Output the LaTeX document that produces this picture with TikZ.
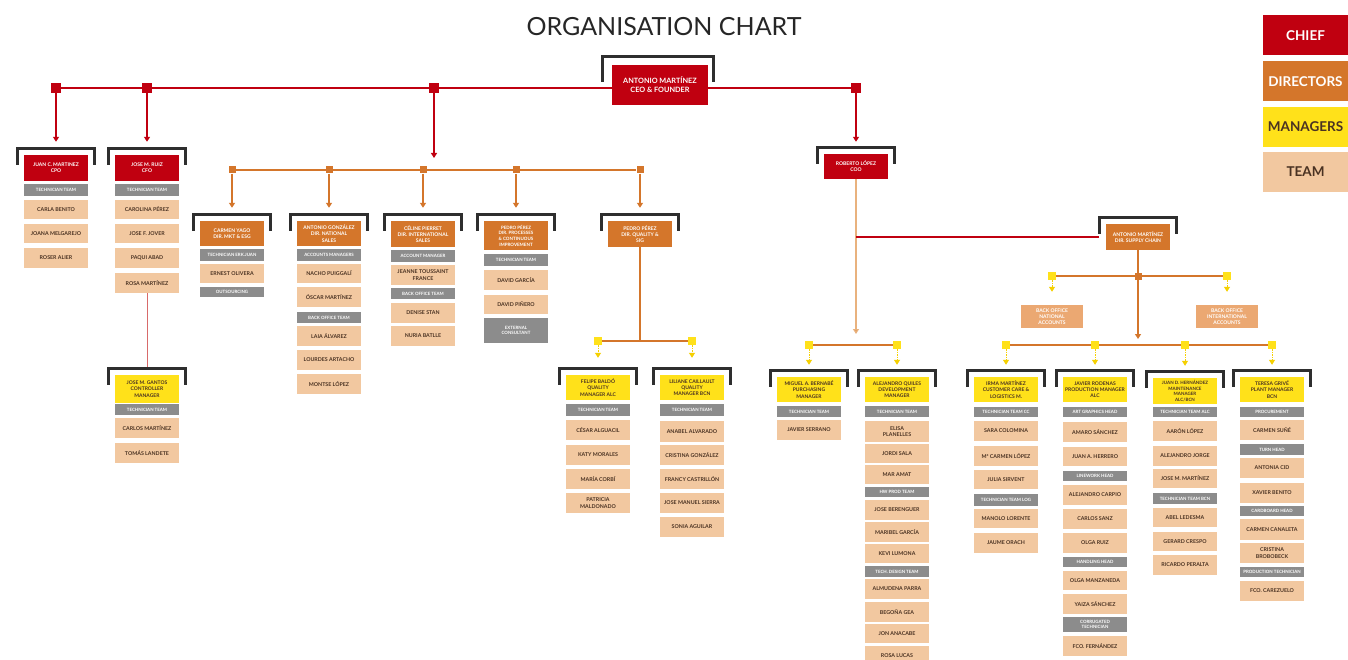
\documentclass[tikz,border=0pt]{standalone}
\usepackage{fontspec}
\setmainfont{Lato}
\usetikzlibrary{arrows.meta}
\definecolor{chiefc}{HTML}{C00010}
\definecolor{dirc}{HTML}{D4762B}
\definecolor{mgrc}{HTML}{FFE11A}
\definecolor{teamc}{HTML}{F2C8A0}
\definecolor{grayc}{HTML}{8C8C8C}
\definecolor{boc}{HTML}{EBA872}
\definecolor{darkt}{HTML}{4A3222}
\definecolor{brkc}{HTML}{2E2E2E}
\definecolor{lorange}{HTML}{E9B27E}
\definecolor{linkc}{HTML}{D86A6A}
\definecolor{yarrc}{HTML}{F5D000}
\pgfdeclarelayer{bg}
\pgfsetlayers{bg,main}
\tikzset{
 base/.style={rectangle, inner sep=0.5pt, minimum width=64pt, align=center, font=\fontsize{5}{6.2}\selectfont\bfseries},
 chief/.style={base, fill=chiefc, text=white},
 dir/.style={base, fill=dirc, text=white},
 mgr/.style={base, fill=mgrc, text=darkt},
 team/.style={base, fill=teamc, text=darkt, font=\fontsize{5.3}{6.4}\selectfont\bfseries},
 grp/.style={base, fill=grayc, text=white, font=\fontsize{4.4}{5.2}\selectfont\bfseries},
 bo/.style={base, minimum width=62pt, fill=boc, text=white},
 four/.style={font=\fontsize{4.5}{5.7}\selectfont\bfseries},
 brk/.style={draw=brkc, line width=3pt, line join=miter},
 redl/.style={draw=chiefc, line width=2.5pt},
 orl/.style={draw=dirc, line width=2.2pt},
 redarr/.style={draw=chiefc, line width=1.3pt, -{Triangle[width=6pt,length=5pt]}},
 orarr/.style={draw=dirc, line width=1.3pt, -{Triangle[width=6pt,length=5pt]}},
 orthin/.style={draw=dirc, line width=1.4pt},
 yarr/.style={draw=yarrc, line width=1pt, dash pattern=on 1.5pt off 1pt, -{Triangle[width=6pt,length=5pt,fill=yarrc]}},
 rsq/.style={rectangle, inner sep=0, minimum size=10pt, fill=chiefc},
 osq/.style={rectangle, inner sep=0, minimum size=7pt, fill=dirc},
 ysq/.style={rectangle, inner sep=0, minimum size=8pt, fill=mgrc},
 legend/.style={rectangle, minimum width=85pt, minimum height=40pt, inner sep=0, font=\fontsize{13.5}{15}\selectfont\bfseries},
}
\newcommand\bx[6]{\node[#2,minimum height={(#5-#4)*1pt}] (#1) at (#3,{(#4+#5)/2}) {#6};}
\newcommand\brk[1]{\draw[brk] ([shift={(-6pt,-10pt)}]#1.north west) -- ([shift={(-6pt,6pt)}]#1.north west) -- ([shift={(6pt,6pt)}]#1.north east) -- ([shift={(6pt,-10pt)}]#1.north east);}
\begin{document}
\begin{tikzpicture}[x=1pt,y=-1pt]
\useasboundingbox (0,0) rectangle (1348,660);
\begin{pgfonlayer}{bg}
\fill[white] (0,0) rectangle (1348,660);
\end{pgfonlayer}
\clip (0,0) rectangle (1348,660);

% title
\node[font=\fontsize{25}{30}\selectfont, text=black!85] (title) at (664,27) {ORGANISATION CHART};

% legend
\node[legend, fill=chiefc, text=white] (lg1) at (1305.5,35.5) {CHIEF};
\node[legend, fill=dirc, text=white] (lg2) at (1305.5,81.5) {DIRECTORS};
\node[legend, fill=mgrc, text=darkt] (lg3) at (1305.5,127) {MANAGERS};
\node[legend, fill=teamc, text=darkt] (lg4) at (1305.5,172) {TEAM};

% CEO
\node[chief, minimum width=96pt, minimum height=40pt, font=\fontsize{7.3}{9}\selectfont\bfseries] (ceo) at (660,85) {ANTONIO MARTÍNEZ\\CEO \& FOUNDER};
\draw[brk] ([shift={(-9pt,-17pt)}]ceo.north west) -- ([shift={(-9pt,8pt)}]ceo.north west) -- ([shift={(5pt,8pt)}]ceo.north east) -- ([shift={(5pt,-17pt)}]ceo.north east);

% top squares
\node[rsq] (rsq1) at (56,88) {};
\node[rsq] (rsq2) at (147,88) {};
\node[rsq] (rsq3) at (434,88) {};
\node[rsq] (rsq4) at (856,88) {};
\coordinate (dtip) at (434,158);

% director squares
\node[osq] (osq1) at (232,170) {};
\node[osq] (osq2) at (329,170) {};
\node[osq] (osq3) at (423,170) {};
\node[osq] (osq4) at (516,170) {};
\node[osq] (osq5) at (640,170) {};

% ---------- chiefs ----------
\bx{jc}{chief}{56}{155}{181}{JUAN C. MARTINEZ\\CPO}
\bx{jc1}{grp}{56}{184}{196}{TECHNICIAN TEAM}
\bx{jc2}{team}{56}{200}{219}{CARLA BENITO}
\bx{jc3}{team}{56}{224}{243}{JOANA MELGAREJO}
\bx{jc4}{team}{56}{248}{268}{ROSER ALIER}

\bx{jr}{chief}{147}{155}{181}{JOSE M. RUIZ\\CFO}
\bx{jr1}{grp}{147}{184}{196}{TECHNICIAN TEAM}
\bx{jr2}{team}{147}{200}{219}{CAROLINA PÉREZ}
\bx{jr3}{team}{147}{224}{243}{JOSE F. JOVER}
\bx{jr4}{team}{147}{248}{268}{PAQUI ABAD}
\bx{jr5}{team}{147}{273}{293}{ROSA MARTÍNEZ}

\bx{gan}{mgr}{147}{375}{403}{JOSE M. GANTOS\\CONTROLLER\\MANAGER}
\bx{gan1}{grp}{147}{404}{415}{TECHNICIAN TEAM}
\bx{gan2}{team}{147}{418}{438}{CARLOS MARTÍNEZ}
\bx{gan3}{team}{147}{443}{463}{TOMÁS LANDETE}

\bx{rl}{chief}{856}{154}{179}{ROBERTO LÓPEZ\\COO}

% ---------- directors ----------
\bx{cy}{dir}{232}{221}{246}{CARMEN YAGO\\DIR. MKT \& ESG}
\bx{cy1}{grp}{232}{249}{261}{TECHNICIAN ERK.JUAN}
\bx{cy2}{team}{232}{264}{283}{ERNEST OLIVERA}
\bx{cy3}{grp}{232}{287}{297}{OUTSOURCING}

\bx{ag}{dir}{329}{221}{246}{ANTONIO GONZÁLEZ\\DIR. NATIONAL\\SALES}
\bx{ag1}{grp}{329}{249}{261}{ACCOUNTS MANAGERS}
\bx{ag2}{team}{329}{264}{283}{NACHO PUIGGALÍ}
\bx{ag3}{team}{329}{287}{307}{ÓSCAR MARTÍNEZ}
\bx{ag4}{grp}{329}{312}{323}{BACK OFFICE TEAM}
\bx{ag5}{team}{329}{326}{346}{LAIA ÁLVAREZ}
\bx{ag6}{team}{329}{350}{370}{LOURDES ARTACHO}
\bx{ag7}{team}{329}{374}{394}{MONTSE LÓPEZ}

\bx{cp}{dir}{423}{221}{247}{CÉLINE PIERRET\\DIR. INTERNATIONAL\\SALES}
\bx{cp1}{grp}{423}{250}{262}{ACCOUNT MANAGER}
\bx{cp2}{team}{423}{265}{285}{JEANNE TOUSSAINT\\FRANCE}
\bx{cp3}{grp}{423}{288}{299}{BACK OFFICE TEAM}
\bx{cp4}{team}{423}{303}{323}{DENISE STAN}
\bx{cp5}{team}{423}{326}{346}{NURIA BATLLE}

\bx{pp}{dir,four}{516}{221}{250}{PEDRO PÉREZ\\DIR. PROCESSES\\\& CONTINUOUS\\IMPROVEMENT}
\bx{pp1}{grp}{516}{254}{266}{TECHNICIAN TEAM}
\bx{pp2}{team}{516}{270}{290}{DAVID GARCÍA}
\bx{pp3}{team}{516}{295}{314}{DAVID PIÑERO}
\bx{pp4}{grp}{516}{318}{343}{EXTERNAL\\CONSULTANT}

\bx{pq}{dir}{640}{221}{247}{PEDRO PÉREZ\\DIR. QUALITY \&\\SIG}

\bx{am}{dir}{1138}{224}{250}{ANTONIO MARTÍNEZ\\DIR. SUPPLY CHAIN}
\bx{bon}{bo}{1052}{305}{328}{BACK OFFICE\\NATIONAL\\ACCOUNTS}
\bx{boi}{bo}{1227}{305}{328}{BACK OFFICE\\INTERNATIONAL\\ACCOUNTS}

% ---------- managers ----------
\bx{fb}{mgr}{598}{375}{400}{FELIPE BALDÓ\\QUALITY\\MANAGER ALC}
\bx{fb1}{grp}{598}{404}{416}{TECHNICIAN TEAM}
\bx{fb2}{team}{598}{420}{440}{CÉSAR ALGUACIL}
\bx{fb3}{team}{598}{445}{465}{KATY MORALES}
\bx{fb4}{team}{598}{469}{489}{MARÍA CORBÍ}
\bx{fb5}{team}{598}{493}{513}{PATRICIA\\MALDONADO}

\bx{lc}{mgr}{692}{375}{400}{LILIANE CAILLAULT\\QUALITY\\MANAGER BCN}
\bx{lc1}{grp}{692}{404}{416}{TECHNICIAN TEAM}
\bx{lc2}{team}{692}{421}{442}{ANABEL ALVARADO}
\bx{lc3}{team}{692}{445}{465}{CRISTINA GONZÁLEZ}
\bx{lc4}{team}{692}{469}{489}{FRANCY CASTRILLÓN}
\bx{lc5}{team}{692}{493}{513}{JOSE MANUEL SIERRA}
\bx{lc6}{team}{692}{517}{537}{SONIA AGUILAR}

\bx{mb}{mgr}{809}{377}{402}{MIGUEL A. BERNABÉ\\PURCHASING\\MANAGER}
\bx{mb1}{grp}{809}{406}{417}{TECHNICIAN TEAM}
\bx{mb2}{team}{809}{420}{440}{JAVIER SERRANO}

\bx{aq}{mgr}{897}{377}{402}{ALEJANDRO QUILES\\DEVELOPMENT\\MANAGER}
\bx{aq1}{grp}{897}{406}{417}{TECHNICIAN TEAM}
\bx{aq2}{team}{897}{421}{442}{ELISA\\PLANELLES}
\bx{aq3}{team}{897}{444}{463}{JORDI SALA}
\bx{aq4}{team}{897}{465}{484}{MAR AMAT}
\bx{aq5}{grp}{897}{487}{497}{HW PROD TEAM}
\bx{aq6}{team}{897}{500}{520}{JOSE BERENGUER}
\bx{aq7}{team}{897}{522}{542}{MARIBEL GARCÍA}
\bx{aq8}{team}{897}{544}{563}{KEVI LUMONA}
\bx{aq9}{grp}{897}{566}{577}{TECH. DESIGN TEAM}
\bx{aq10}{team}{897}{579}{599}{ALMUDENA PARRA}
\bx{aq11}{team}{897}{602}{622}{BEGOÑA GEA}
\bx{aq12}{team}{897}{624}{643}{JON ANACABE}
\bx{aq13}{team}{897}{646}{666}{ROSA LUCAS}

\bx{im}{mgr}{1006}{377}{402}{IRMA MARTÍNEZ\\CUSTOMER CARE \&\\LOGISTICS M.}
\bx{im1}{grp}{1006}{407}{417}{TECHNICIAN TEAM CC}
\bx{im2}{team}{1006}{421}{441}{SARA COLOMINA}
\bx{im3}{team}{1006}{446}{466}{Mª CARMEN LÓPEZ}
\bx{im4}{team}{1006}{470}{489}{JULIA SIRVENT}
\bx{im5}{grp}{1006}{494}{506}{TECHNICIAN TEAM LOG}
\bx{im6}{team}{1006}{509}{528}{MANOLO LORENTE}
\bx{im7}{team}{1006}{533}{553}{JAUME ORACH}

\bx{jv}{mgr}{1095}{377}{402}{JAVIER RODENAS\\PRODUCTION MANAGER\\ALC}
\bx{jv1}{grp}{1095}{407}{417}{ART GRAPHICS HEAD}
\bx{jv2}{team}{1095}{422}{442}{AMARO SÁNCHEZ}
\bx{jv3}{team}{1095}{447}{466}{JUAN A. HERRERO}
\bx{jv4}{grp}{1095}{471}{481}{LINEWORK HEAD}
\bx{jv5}{team}{1095}{485}{505}{ALEJANDRO CARPIO}
\bx{jv6}{team}{1095}{509}{529}{CARLOS SANZ}
\bx{jv7}{team}{1095}{533}{553}{OLGA RUIZ}
\bx{jv8}{grp}{1095}{557}{567}{HANDLING HEAD}
\bx{jv9}{team}{1095}{571}{590}{OLGA MANZANEDA}
\bx{jv10}{team}{1095}{594}{614}{YAIZA SÁNCHEZ}
\bx{jv11}{grp}{1095}{617}{632}{CORRUGATED\\TECHNICIAN}
\bx{jv12}{team}{1095}{636}{656}{FCO. FERNÁNDEZ}

\bx{jd}{mgr,four}{1185}{378}{404}{JUAN D. HERNÁNDEZ\\MAINTENANCE\\MANAGER\\ALC/BCN}
\bx{jd1}{grp}{1185}{407}{417}{TECHNICIAN TEAM ALC}
\bx{jd2}{team}{1185}{421}{441}{AARÓN LÓPEZ}
\bx{jd3}{team}{1185}{446}{466}{ALEJANDRO JORGE}
\bx{jd4}{team}{1185}{469}{488}{JOSE M. MARTÍNEZ}
\bx{jd5}{grp}{1185}{493}{504}{TECHNICIAN TEAM BCN}
\bx{jd6}{team}{1185}{508}{527}{ABEL LEDESMA}
\bx{jd7}{team}{1185}{532}{551}{GERARD CRESPO}
\bx{jd8}{team}{1185}{555}{575}{RICARDO PERALTA}

\bx{tg}{mgr}{1272}{377}{402}{TERESA GRIVÉ\\PLANT MANAGER\\BCN}
\bx{tg1}{grp}{1272}{407}{417}{PROCUREMENT}
\bx{tg2}{team}{1272}{420}{440}{CARMEN SUÑÉ}
\bx{tg3}{grp}{1272}{444}{455}{TURN HEAD}
\bx{tg4}{team}{1272}{458}{478}{ANTONIA CID}
\bx{tg5}{team}{1272}{483}{503}{XAVIER BENITO}
\bx{tg6}{grp}{1272}{506}{516}{CARDBOARD HEAD}
\bx{tg7}{team}{1272}{519}{540}{CARMEN CANALETA}
\bx{tg8}{team}{1272}{543}{563}{CRISTINA\\BROBOBECK}
\bx{tg9}{grp}{1272}{567}{577}{PRODUCTION TECHNICIAN}
\bx{tg10}{team}{1272}{581}{601}{FCO. CAREZUELO}

% brackets
\foreach \n in {jc,jr,gan,rl,cy,ag,cp,pp,pq,am,fb,lc,mb,aq,im,jv,jd,tg} {\brk{\n}}

% manager-level squares
\node[ysq] (ysqA) at (598,341) {};
\node[ysq] (ysqB) at (692,341) {};
\coordinate (pqj) at (640,341);
\coordinate (rtip) at (856,334);
\coordinate (rj) at (856,237);
\node[ysq] (ysqC) at (809,345) {};
\node[ysq] (ysqD) at (897,345) {};
\node[osq] (osqM) at (1138,276) {};
\node[ysq] (ysqE) at (1052,276) {};
\node[ysq] (ysqF) at (1227,276) {};
\coordinate (amtip) at (1138,339);
\node[ysq] (ysqG) at (1006,345) {};
\node[ysq] (ysqH) at (1095,345) {};
\node[ysq] (ysqI) at (1185,345) {};
\node[ysq] (ysqJ) at (1272,345) {};

% connectors on background
\begin{pgfonlayer}{bg}
\draw[redl] (rsq1) -- (rsq1 -| ceo.west);
\draw[redl] (rsq4 -| ceo.east) -- (rsq4);
\draw[redarr] (rsq1) -- ([yshift=13pt]jc.north);
\draw[redarr] (rsq2) -- ([yshift=13pt]jr.north);
\draw[redarr] (rsq4) -- ([yshift=12pt]rl.north);
\draw[redarr] (rsq3) -- (dtip);
\draw[orl] (osq1) -- (osq5);
\foreach \s/\n in {osq1/cy,osq2/ag,osq3/cp,osq4/pp,osq5/pq}
  \draw[orarr] (\s) -- ([yshift=13pt]\n.north);
\draw[draw=linkc, line width=1pt] (jr5.south) -- ([yshift=7pt]gan.north);
% quality
\draw[orthin] (pq.south) -- (pqj);
\draw[orl] (ysqA) -- (ysqB);
\draw[yarr] (ysqA) -- ([yshift=17pt]fb.north);
\draw[yarr] (ysqB) -- ([yshift=17pt]lc.north);
% COO
\draw[draw=lorange, line width=1.5pt, -{Triangle[width=6pt,length=5pt,fill=dirc]}] (rl.south) -- (rtip);
\draw[orl] (ysqC) -- (ysqD);
\draw[yarr] (ysqC) -- ([yshift=12pt]mb.north);
\draw[yarr] (ysqD) -- ([yshift=12pt]aq.north);
\draw[redl] (rj) -- ([xshift=-7pt]rj -| am.west);
% supply chain
\draw[orarr, line width=1.4pt] (am.south) -- (amtip);
\draw[orl] (ysqE) -- (ysqF);
\draw[yarr] (ysqE) -- ([yshift=13pt]bon.north);
\draw[yarr] (ysqF) -- ([yshift=13pt]boi.north);
\draw[orl] (ysqG) -- (ysqJ);
\foreach \s/\n in {ysqG/im,ysqH/jv,ysqI/jd,ysqJ/tg}
  \draw[yarr] (\s) -- ([yshift=12pt]\n.north);
\end{pgfonlayer}
\end{tikzpicture}
\end{document}
